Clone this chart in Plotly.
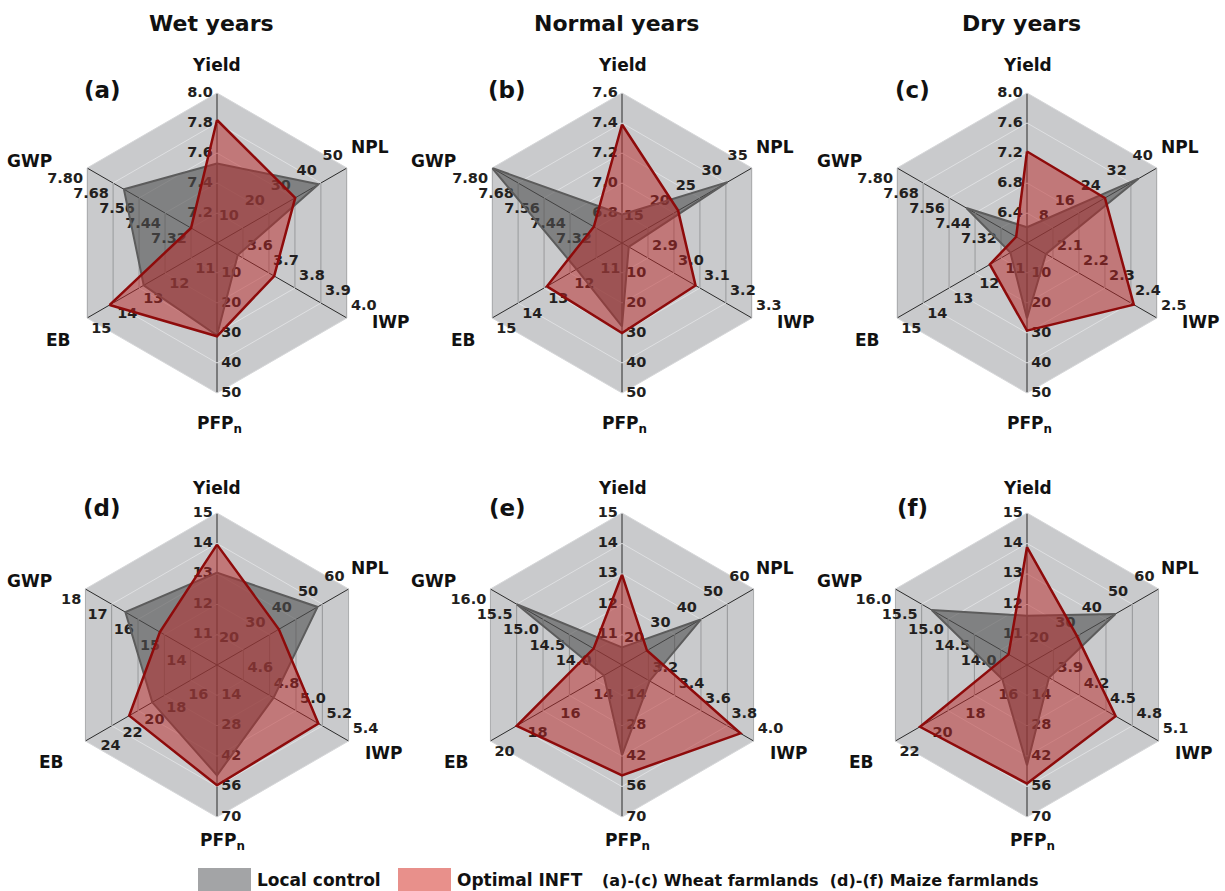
import plotly.graph_objects as go

# ---------------- data ----------------
axes = ["Yield", "NPL", "IWP", "PFPn", "EB", "GWP"]
axis_titles = ["Yield", "NPL", "IWP", "PFP<sub>n</sub>", "EB", "GWP"]
panel_labels = ["(a)", "(b)", "(c)", "(d)", "(e)", "(f)"]
column_titles = ["Wet years", "Normal years", "Dry years"]
series_names = ["Local control", "Optimal INFT"]
crop_notes = ["(a)-(c) Wheat farmlands", "(d)-(f) Maize farmlands"]

# values in axis order: Yield, NPL, IWP, PFPn, EB, GWP
local_a = [7.53, 39.1, 3.58, 30.8, 12.82, 7.63]
optimal_a = [7.82, 30.1, 3.72, 31.1, 14.13, 7.32]
local_b = [6.79, 30.3, 2.826, 27.8, 11.75, 7.80]
optimal_b = [7.39, 20.8, 3.083, 30.0, 12.89, 7.33]
local_c = [6.21, 34.3, 2.073, 25.1, 10.64, 7.48]
optimal_c = [7.22, 24.0, 2.411, 29.2, 11.43, 7.25]
local_d = [13.04, 48.2, 4.83, 50.8, 18.9, 16.48]
optimal_d = [13.96, 33.5, 5.17, 55.4, 21.0, 15.17]
local_e = [10.58, 39.9, 3.21, 41.5, 13.1, 15.5]
optimal_e = [12.97, 19.5, 3.90, 50.8, 18.4, 14.04]
local_f = [11.62, 43.6, 3.85, 46.2, 15.5, 15.31]
optimal_f = [13.88, 29.0, 4.61, 54.6, 20.5, 13.85]

# axis scales (value at centre, value at outer ring)
lo_a = [7.0, 0, 3.5, 0, 10, 7.20]
hi_a = [8.0, 50, 4.0, 50, 15, 7.80]
lo_b = [6.6, 10, 2.8, 0, 10, 7.20]
hi_b = [7.6, 35, 3.3, 50, 15, 7.80]
lo_c = [6.0, 0, 2.0, 0, 10, 7.20]
hi_c = [8.0, 40, 2.5, 50, 15, 7.80]
lo_d = [10, 10, 4.4, 0, 13, 13]
hi_d = [15, 60, 5.4, 70, 25, 18]
lo_e = [10, 10, 3.0, 0, 12, 13.5]
hi_e = [15, 60, 4.0, 70, 20, 16.0]
lo_f = [10, 10, 3.6, 0, 14, 13.5]
hi_f = [15, 60, 5.1, 70, 22, 16.0]

# tick labels per axis
ticks_a = [["7.2", "7.4", "7.6", "7.8", "8.0"], ["10", "20", "30", "40", "50"],
           ["3.6", "3.7", "3.8", "3.9", "4.0"], ["10", "20", "30", "40", "50"],
           ["11", "12", "13", "14", "15"], ["7.32", "7.44", "7.56", "7.68", "7.80"]]
ticks_b = [["6.8", "7.0", "7.2", "7.4", "7.6"], ["15", "20", "25", "30", "35"],
           ["2.9", "3.0", "3.1", "3.2", "3.3"], ["10", "20", "30", "40", "50"],
           ["11", "12", "13", "14", "15"], ["7.32", "7.44", "7.56", "7.68", "7.80"]]
ticks_c = [["6.4", "6.8", "7.2", "7.6", "8.0"], ["8", "16", "24", "32", "40"],
           ["2.1", "2.2", "2.3", "2.4", "2.5"], ["10", "20", "30", "40", "50"],
           ["11", "12", "13", "14", "15"], ["7.32", "7.44", "7.56", "7.68", "7.80"]]
ticks_d = [["11", "12", "13", "14", "15"], ["20", "30", "40", "50", "60"],
           ["4.6", "4.8", "5.0", "5.2", "5.4"], ["14", "28", "42", "56", "70"],
           ["16", "18", "20", "22", "24"], ["14", "15", "16", "17", "18"]]
ticks_e = [["11", "12", "13", "14", "15"], ["20", "30", "40", "50", "60"],
           ["3.2", "3.4", "3.6", "3.8", "4.0"], ["14", "28", "42", "56", "70"],
           ["14", "16", "18", "20"], ["14.0", "14.5", "15.0", "15.5", "16.0"]]
ticks_f = [["11", "12", "13", "14", "15"], ["20", "30", "40", "50", "60"],
           ["3.9", "4.2", "4.5", "4.8", "5.1"], ["14", "28", "42", "56", "70"],
           ["16", "18", "20", "22"], ["14.0", "14.5", "15.0", "15.5", "16.0"]]

panels = [
    (local_a, optimal_a, lo_a, hi_a, ticks_a),
    (local_b, optimal_b, lo_b, hi_b, ticks_b),
    (local_c, optimal_c, lo_c, hi_c, ticks_c),
    (local_d, optimal_d, lo_d, hi_d, ticks_d),
    (local_e, optimal_e, lo_e, hi_e, ticks_e),
    (local_f, optimal_f, lo_f, hi_f, ticks_f),
]

# ---------------- layout / style ----------------
W, H = 1225, 891
FONT = "DejaVu Sans"
BG = "#c9cacc"
RING = "#dfe0e2"
SIDE = "#8e8f91"
SPOKE = "#2b2b2b"
OUTER = "#d6d7d9"
TXT = "#231f20"
GREY_FILL = "rgba(80,80,80,0.60)"
GREY_LINE = "#5c5c5c"
RED_FILL = "rgba(186,38,38,0.50)"
RED_LINE = "#8e0b0b"
N_RINGS = 5

# panel centres and radii in pixels
centers = [(217, 243, 150), (622, 243, 150), (1027, 243, 150),
           (217, 665, 152), (622, 665, 152), (1027, 665, 152)]
tick_pos = ["middle left", "top left", "top right", "middle right", "bottom right", "bottom left"]


def fx(x):
    return x / W


def fy(y):
    return 1 - y / H


def scale(v, lo, hi):
    return (v - lo) / (hi - lo) * N_RINGS


fig = go.Figure()
annotations = []
layout_polars = {}

for i, (loc, opt, lo, hi, ticks) in enumerate(panels):
    sub = "polar" if i == 0 else f"polar{i + 1}"
    cx, cy, R = centers[i]

    # darker vertical ring segments (side sectors)
    sr, st = [], []
    for k in range(1, N_RINGS + 1):
        sr += [k, k, None, k, k, None]
        st += ["NPL", "IWP", "IWP", "EB", "GWP", "GWP"]
    fig.add_trace(go.Scatterpolar(r=sr, theta=st, mode="lines", subplot=sub,
                                  line=dict(color=SIDE, width=1), hoverinfo="skip",
                                  showlegend=False))

    # tick labels placed on each axis through the polar scale
    tr, tt, tx, tp = [], [], [], []
    for j, ax in enumerate(axes):
        for lab in ticks[j]:
            tr.append(scale(float(lab), lo[j], hi[j]))
            tt.append(ax)
            tx.append(lab)
            tp.append(tick_pos[j])
    fig.add_trace(go.Scatterpolar(r=tr, theta=tt, text=tx, textposition=tp,
                                  mode="markers+text", subplot=sub,
                                  marker=dict(size=5, opacity=0),
                                  textfont=dict(family=FONT, size=14.5, color=TXT, weight="bold"),
                                  hoverinfo="skip", showlegend=False, cliponaxis=False))

    # series polygons
    for vals, fillc, linec, lw, name in [(loc, GREY_FILL, GREY_LINE, 2, series_names[0]),
                                          (opt, RED_FILL, RED_LINE, 2.5, series_names[1])]:
        rr = [scale(v, lo[j], hi[j]) for j, v in enumerate(vals)]
        fig.add_trace(go.Scatterpolar(r=rr + rr[:1], theta=axes + axes[:1], mode="lines",
                                      fill="toself", fillcolor=fillc, subplot=sub,
                                      line=dict(color=linec, width=lw), name=name,
                                      showlegend=False))

    layout_polars[sub] = dict(
        domain=dict(x=[fx(cx - R), fx(cx + R)], y=[fy(cy + R), fy(cy - R)]),
        bgcolor=BG, gridshape="linear",
        radialaxis=dict(range=[0, N_RINGS], tickvals=list(range(1, N_RINGS + 1)),
                        showticklabels=False, ticks="", showline=False,
                        gridcolor=RING, gridwidth=1, layer="below traces"),
        angularaxis=dict(type="category", categoryorder="array", categoryarray=axes,
                         rotation=90, direction="clockwise", showticklabels=False, ticks="",
                         gridcolor=SPOKE, gridwidth=1, showline=True, linecolor=OUTER,
                         linewidth=1, layer="below traces"),
    )

    # axis names and panel label
    top = i < 3
    offs = ([(0, -178), (153, -96), (174, 79), (2, 181), (-159, 97), (-188, -82)] if top else
            [(0, -177), (153, -97), (167, 88), (5, 176), (-166, 97), (-188, -84)])
    for j, (dx, dy) in enumerate(offs):
        annotations.append(dict(x=fx(cx + dx), y=fy(cy + dy), xref="paper", yref="paper",
                                text=axis_titles[j], showarrow=False,
                                xanchor="center", yanchor="middle",
                                font=dict(family=FONT, size=17, color="#111", weight="bold")))
    pdy = -153 if top else -157
    annotations.append(dict(x=fx(cx - 115), y=fy(cy + pdy), xref="paper", yref="paper",
                            text=panel_labels[i], showarrow=False,
                            xanchor="center", yanchor="middle",
                            font=dict(family=FONT, size=23, color="#111", weight="bold")))

# column titles
for c, title in enumerate(column_titles):
    annotations.append(dict(x=fx(centers[c][0] - 6), y=fy(24), xref="paper", yref="paper",
                            text=title, showarrow=False, xanchor="center", yanchor="middle",
                            font=dict(family=FONT, size=22, color="#111", weight="bold")))

# legend (bottom)
shapes = [
    dict(type="rect", xref="paper", yref="paper", x0=fx(198), x1=fx(251), y0=fy(891), y1=fy(868),
         fillcolor="#a3a4a6", line=dict(width=0)),
    dict(type="rect", xref="paper", yref="paper", x0=fx(398), x1=fx(451), y0=fy(891), y1=fy(868),
         fillcolor="#e8908b", line=dict(width=0)),
]
for xpos, txt, fs in [(255, series_names[0], 17), (455, series_names[1], 17),
                      (600, crop_notes[0] + "  " + crop_notes[1], 16)]:
    annotations.append(dict(x=fx(xpos), y=fy(880), xref="paper", yref="paper", text=txt,
                            showarrow=False, xanchor="left", yanchor="middle",
                            font=dict(family=FONT, size=fs, color="#111", weight="bold")))

fig.update_layout(width=W, height=H, margin=dict(l=0, r=0, t=0, b=0),
                  paper_bgcolor="white", plot_bgcolor="white", showlegend=False,
                  annotations=annotations, shapes=shapes, **layout_polars)

fig.write_html("out.html")
